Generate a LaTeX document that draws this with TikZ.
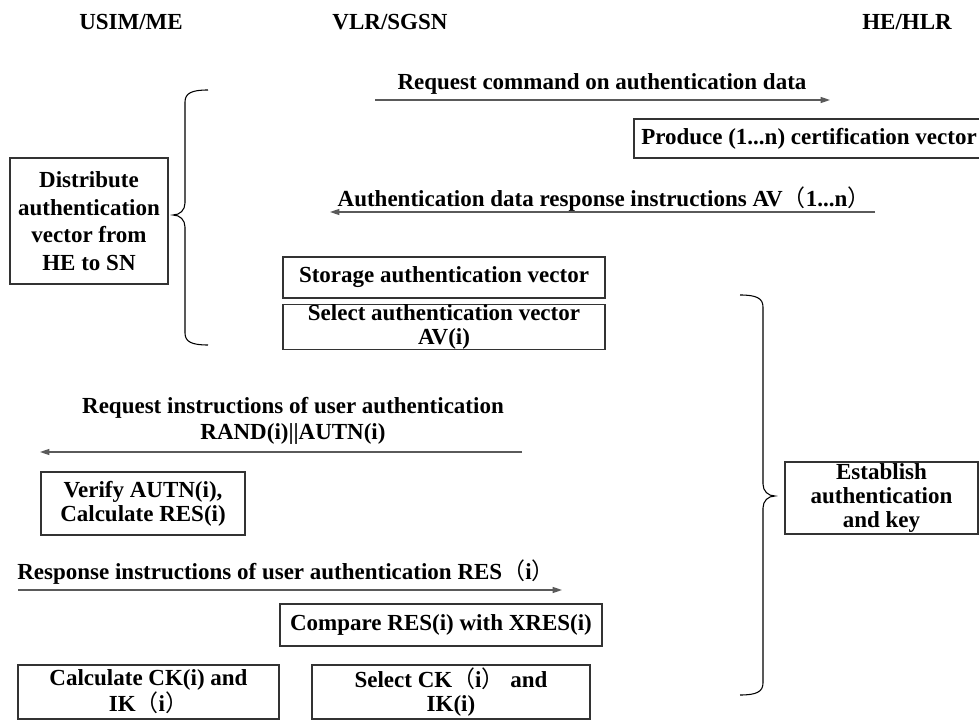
\documentclass[tikz,border=0pt]{standalone}
\usepackage{fontspec}
\setmainfont{Liberation Serif}
\newfontfamily\cjk{Noto Sans CJK SC}
\usetikzlibrary{arrows.meta}

% full-width parentheses
\newcommand\flp{{\cjk\mdseries （}}
\newcommand\frp{{\cjk\mdseries ）}}

\definecolor{boxline}{HTML}{333333}
\definecolor{arrowgray}{HTML}{5A5A5A}

\tikzset{
  txt/.style={font=\fontsize{17.25}{18}\selectfont\bfseries, inner sep=0pt, outer sep=0pt, align=center},
  box/.style={txt, draw=boxline, line width=0.9pt},
  boxsize/.style 2 args={minimum width=#1*0.75pt, minimum height=#2*0.75pt},
  lineskip/.style={font=\fontsize{17.25}{#1}\selectfont\bfseries},
  msg/.style={draw=arrowgray, line width=0.9pt, -{Triangle[length=7pt,width=4.5pt]}},
  bracket/.style={draw=black, line width=0.8pt},
}

\begin{document}
\begin{tikzpicture}[x=0.75pt, y=-0.75pt]
\useasboundingbox (0,0) rectangle (979,720);

% column headers
\node[txt] (usim) at (131,22) {USIM/ME};
\node[txt] (vlr)  at (390,22) {VLR/SGSN};
\node[txt] (hlr)  at (907,22) {HE/HLR};

% authentication data request
\coordinate (a1s) at (375,100);
\coordinate (a1e) at (830,100);
\draw[msg] (a1s) -- (a1e);
\node[txt] (l1) at (602,84) {Request command on authentication data};

\node[box, boxsize={350}{39}] (prod) at (809,138.5) {Produce (1...n) certification vector};

% authentication data response
\coordinate (a2s) at (875,212);
\coordinate (a2e) at (330,212);
\draw[msg] (a2s) -- (a2e);
\node[txt] (l2) at (604,199) {Authentication data response instructions AV\flp 1...n\frp};

% distribution phase
\node[box, boxsize={158}{126}, lineskip=20.6] (dist) at (89,221)
  {Distribute\\authentication\\vector from\\HE to SN};
\draw[bracket] (208,90) .. controls (192,90) and (185,93) .. (185,102) -- (185,203)
  .. controls (185,210) and (180,215) .. (173,215)
  .. controls (180,215) and (185,220) .. (185,227) -- (185,333)
  .. controls (185,342) and (192,345) .. (208,345);

\node[box, boxsize={322}{41}] (store) at (444,277.5) {Storage authentication vector};
\node[box, boxsize={322}{44}, lineskip=18.5] (selav) at (444,327)
  {Select authentication vector\\AV(i)};

% authentication and key agreement phase
\draw[bracket] (740,295) .. controls (756,295) and (763,298) .. (763,307) -- (763,484)
  .. controls (763,491) and (768,496) .. (775,496)
  .. controls (768,496) and (763,501) .. (763,508) -- (763,683)
  .. controls (763,692) and (756,695) .. (740,695);
\node[box, boxsize={193}{72}] (estab) at (881.5,498) {Establish\\authentication\\and key};

% user authentication request
\node[txt, lineskip=19] (l3) at (293,421)
  {Request instructions of user authentication\\RAND(i)||AUTN(i)};
\coordinate (a3s) at (522,452);
\coordinate (a3e) at (40,452);
\draw[msg] (a3s) -- (a3e);

\node[box, boxsize={204}{63}] (verify) at (143,503.5) {Verify AUTN(i),\\Calculate RES(i)};

% user authentication response
\node[txt] (l4) at (286,572) {Response instructions of user authentication RES\flp i\frp};
\coordinate (a4s) at (18,590);
\coordinate (a4e) at (562,590);
\draw[msg] (a4s) -- (a4e);

\node[box, boxsize={322}{42}] (cmp) at (441,625) {Compare RES(i) with XRES(i)};

% key derivation
\node[box, boxsize={261}{54}] (calc) at (148.5,692) {Calculate CK(i) and\\IK\flp i\frp};
\node[box, boxsize={278}{54}] (selck) at (451,692) {Select CK\flp i\frp{} and\\IK(i)};
\end{tikzpicture}
\end{document}
